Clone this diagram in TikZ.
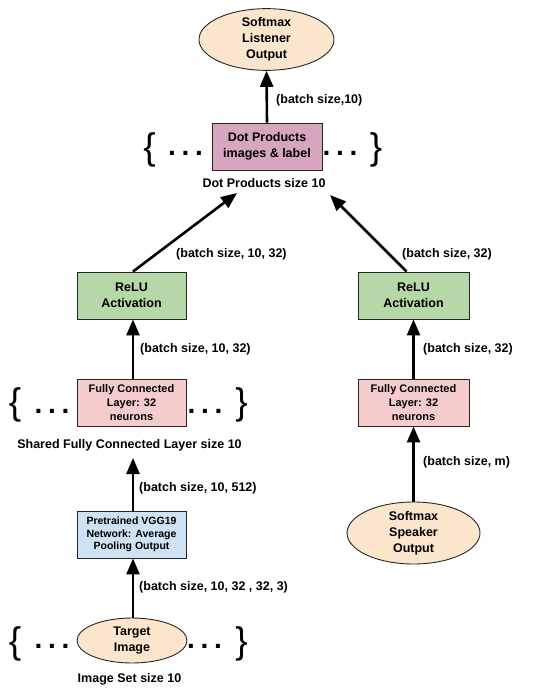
\documentclass[tikz,border=0pt]{standalone}
\usepackage{fontspec}
\setmainfont{Liberation Sans}
\usepackage{xcolor}
\usepackage{tikz}
\usetikzlibrary{shapes.geometric,arrows.meta}
\definecolor{peach}{HTML}{FCE5CD}
\definecolor{mauve}{HTML}{D5A6BD}
\definecolor{mint}{HTML}{B6D7A8}
\definecolor{rose}{HTML}{F4CCCC}
\definecolor{sky}{HTML}{CFE2F3}

\begin{document}
\begin{tikzpicture}[x=1pt, y=-1pt,
  box/.style={draw=black!85, line width=0.9pt, rectangle, align=center, font=\fontsize{12.5}{16}\selectfont\bfseries, inner sep=0pt},
  smallbox/.style={box, font=\fontsize{11}{13.8}\selectfont\bfseries},
  tinybox/.style={box, font=\fontsize{10.5}{12.6}\selectfont\bfseries},
  oval/.style={draw=black!85, line width=0.9pt, ellipse, fill=peach, align=center, font=\fontsize{12.5}{16}\selectfont\bfseries, inner sep=0pt},
  lbl/.style={font=\fontsize{12.5}{15}\selectfont\bfseries, inner sep=0pt},
  brc/.style={font=\fontsize{37}{37}\selectfont, inner sep=0pt},
  dts/.style={font=\fontsize{28}{28}\selectfont\bfseries, inner sep=0pt},
  arr/.style={line width=2.6pt, -{Triangle[length=16pt, width=13pt]}}]
  \useasboundingbox (0,0) rectangle (548,695);
  \node[oval, minimum width=135, minimum height=57] (listener) at (266.5,39.5) {Softmax\\Listener\\Output};
  \node[box, fill=mauve, minimum width=110, minimum height=47] (dotprod) at (267,146.5) {Dot Products\\images \& label};
  \node[lbl] (dplabel) at (264,183) {Dot Products size 10};
  \node[brc] (dplbrace) at (149.5,150) {\{};
  \node[dts] (dpldots) at (185.5,153) {.\hspace{5.7pt}.\hspace{5.7pt}.};
  \node[dts] (dprdots) at (340,153) {.\hspace{5.7pt}.\hspace{5.7pt}.};
  \node[brc] (dprbrace) at (376,150) {\}};
  \node[box, fill=mint, minimum width=109, minimum height=47] (reluL) at (131.5,295.5) {ReLU\\Activation};
  \node[box, fill=mint, minimum width=111, minimum height=47] (reluR) at (413.5,295.5) {ReLU\\Activation};
  \node[smallbox, fill=rose, minimum width=109, minimum height=47] (fcL) at (131.5,402.5) {Fully Connected\\Layer: 32\\neurons};
  \node[smallbox, fill=rose, minimum width=111, minimum height=47] (fcR) at (413.5,402.5) {Fully Connected\\Layer: 32\\neurons};
  \node[brc] (fclbrace) at (15,405) {\{};
  \node[dts] (fcldots) at (52,411) {.\hspace{5.7pt}.\hspace{5.7pt}.};
  \node[dts] (fcrdots) at (205,411) {.\hspace{5.7pt}.\hspace{5.7pt}.};
  \node[brc] (fcrbrace) at (241.5,405) {\}};
  \node[lbl] (shlabel) at (129.5,445) {Shared Fully Connected Layer size 10};
  \node[tinybox, fill=sky, minimum width=109, minimum height=47] (vgg) at (131.5,534.5) {Pretrained VGG19\\Network: Average\\Pooling Output};
  \node[oval, minimum width=110, minimum height=45] (target) at (132,640.5) {Target\\Image};
  \node[brc] (islbrace) at (15,644) {\{};
  \node[dts] (isldots) at (52,646) {.\hspace{5.7pt}.\hspace{5.7pt}.};
  \node[dts] (isrdots) at (204.5,646) {.\hspace{5.7pt}.\hspace{5.7pt}.};
  \node[brc] (isrbrace) at (241.5,644) {\}};
  \node[lbl] (islabel) at (129.5,679) {Image Set size 10};
  \node[oval, minimum width=133, minimum height=62] (speaker) at (413.5,533) {Softmax\\Speaker\\Output};
  \coordinate (tipL) at (237,193);
  \coordinate (tipR) at (330,195);
  \coordinate (shtip) at (133,458);
  \draw[arr] (dotprod.north) -- (listener.south);
  \draw[arr] ([xshift=1.5pt]reluL.north) -- (tipL);
  \draw[arr] ([xshift=-7pt]reluR.north) -- (tipR);
  \draw[arr] ([xshift=1.5pt]fcL.north) -- ([xshift=1.5pt]reluL.south);
  \draw[arr] (fcR.north) -- (reluR.south);
  \draw[arr] ([xshift=1.5pt]vgg.north) -- (shtip);
  \draw[arr] ([xshift=1pt]target.north) -- ([xshift=1.5pt]vgg.south);
  \draw[arr] (speaker.north) -- (fcR.south);
  \node[lbl, anchor=west] (l1) at (276,100) {(batch size,10)};
  \node[lbl, anchor=west] (l2) at (176,254) {(batch size, 10, 32)};
  \node[lbl, anchor=west] (l3) at (402,254) {(batch size, 32)};
  \node[lbl, anchor=west] (l4) at (140,349) {(batch size, 10, 32)};
  \node[lbl, anchor=west] (l5) at (423,349) {(batch size, 32)};
  \node[lbl, anchor=west] (l6) at (139,488) {(batch size, 10, 512)};
  \node[lbl, anchor=west] (l7) at (139,587) {(batch size, 10, 32 , 32, 3)};
  \node[lbl, anchor=west] (l8) at (423,462) {(batch size, m)};
\end{tikzpicture}
\end{document}
